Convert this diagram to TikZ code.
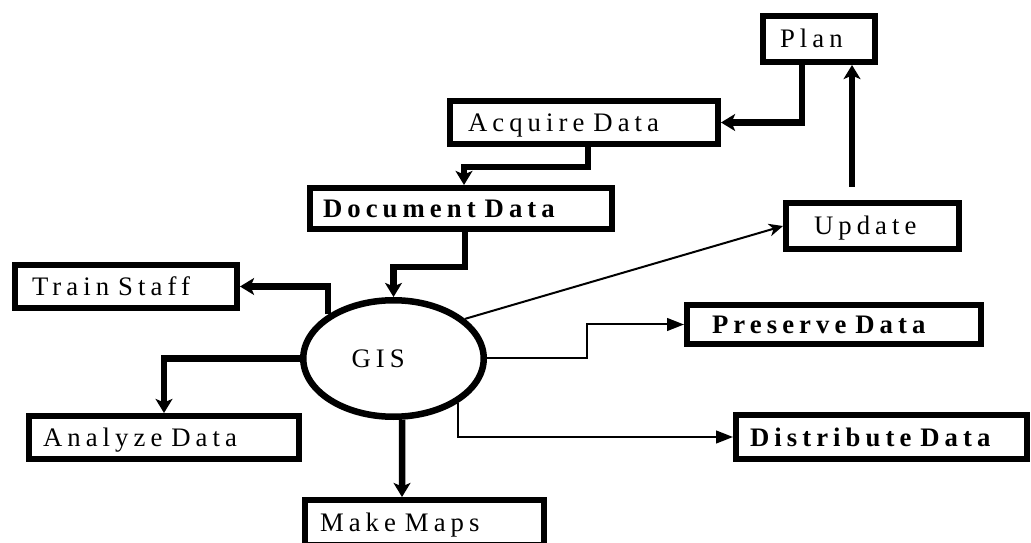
\documentclass[tikz,border=0pt]{standalone}
\usepackage{fontspec}
\setmainfont{Liberation Serif}[LetterSpace=19, Ligatures=NoCommon]
\usepackage{tikz}
\usetikzlibrary{positioning, arrows.meta, shapes.geometric, calc}
\newlength{\pxu}
\setlength{\pxu}{0.025cm}
\protected\def\boxfont{\fontsize{19}{21}\selectfont\spaceskip=9pt\relax}

\begin{document}
\begin{tikzpicture}[
    x=1\pxu, y=-1\pxu,
    box/.style={draw, line width=6\pxu, inner ysep=0pt, align=left,
        text height=18\pxu, text depth=0pt, font=\boxfont},
    hub/.style={ellipse, draw, line width=6.5\pxu, inner sep=0pt, align=left,
        minimum width=180.5\pxu, minimum height=116.5\pxu, text width=84\pxu,
        text height=18\pxu, text depth=0pt, font=\boxfont},
    thickarrow/.style={-{Stealth[length=10pt, width=12pt, inset=2.5pt]}, line width=6.5\pxu},
    midarrow/.style={-{Stealth[length=10pt, width=12pt, inset=2.5pt]}, line width=5.5\pxu},
    thinarrow/.style={-{Stealth[length=10pt, width=9pt, inset=3pt]}, line width=2\pxu},
    thintri/.style={-{Triangle[length=12pt, width=9pt]}, line width=2\pxu}
]
    \useasboundingbox (0,0) rectangle (1031,543);

    % Centre
    \node[hub] (gis) at (393.5,358.5) {GIS};

    % Boxes
    \node[box, text width=78\pxu, inner xsep=17\pxu, minimum height=46\pxu] (plan) at (819,39) {Plan};
    \node[box, text width=232\pxu, inner xsep=18\pxu, minimum height=43\pxu] (acquire) at (584,122.5) {Acquire Data};
    \node[box, text width=276\pxu, inner xsep=13\pxu, minimum height=41\pxu] (document) at (461,208.5) {\bfseries Document Data};
    \node[box, text width=117\pxu, inner xsep=28\pxu, minimum height=46\pxu] (update) at (872.5,226) {Update};
    \node[box, text width=188\pxu, inner xsep=17\pxu, minimum height=43\pxu] (train) at (126,286.5) {Train Staff};
    \node[box, text width=244\pxu, inner xsep=25\pxu, minimum height=39\pxu] (preserve) at (834,324.5) {\bfseries Preserve Data};
    \node[box, text width=242\pxu, inner xsep=14\pxu, minimum height=43\pxu] (analyze) at (164,437.5) {Analyze Data};
    \node[box, text width=263\pxu, inner xsep=14\pxu, minimum height=44\pxu] (distribute) at (881.5,437) {\bfseries Distribute Data};
    \node[box, text width=209\pxu, inner xsep=15\pxu, minimum height=45\pxu] (maps) at (424.5,522.5) {Make Maps};

    % Planning loop
    \draw[thickarrow] ($(plan.south)+(-17,0)$) |- (acquire.east);
    \draw[thickarrow] ($(acquire.south)+(4,0)$) -- ++(0,20) -| ($(document.north)+(3,0)$);
    \draw[thickarrow] ($(document.south)+(4,0)$) -- ++(0,35) -| (gis.north);
    \draw[midarrow] ($(update.north)+(-20.5,-13)$) -- ($(plan.south)+(33,0)$);

    % Out of GIS
    \draw[thickarrow] (gis.146) |- (train.east);
    \draw[thickarrow] (gis.west) -| (analyze.north);
    \draw[thickarrow] ($(gis.south)+(8.5,0)$) -- ($(maps.north)+(-22.5,0)$);
    \draw[thinarrow] (gis.29) -- (update.west);
    \draw[thintri] (gis.east) -- ++(100,0) |- (preserve.west);
    \draw[thintri] (gis.-35) |- (distribute.west);
\end{tikzpicture}
\end{document}
